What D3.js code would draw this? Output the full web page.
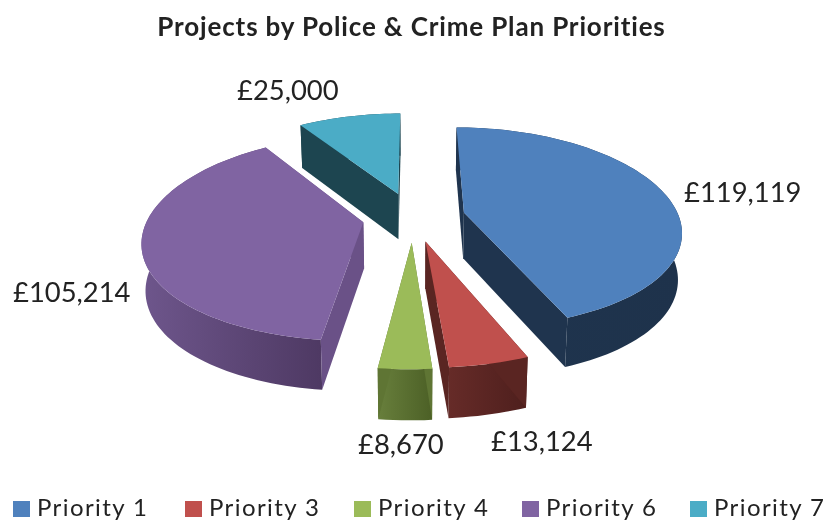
<!DOCTYPE html>
<html><head><meta charset="utf-8">
<script src="https://cdn.jsdelivr.net/npm/d3@7"></script>
<style>html,body{margin:0;padding:0;background:#fff;overflow:hidden}svg{display:block;filter:blur(.55px)}text{font-family:Lato,"Open Sans",sans-serif;fill:#222}</style>
</head><body><svg id="c" width="827" height="521"></svg>
<script>
const titleText = "Projects by Police & Crime Plan Priorities";
const categories = ["Priority 1","Priority 3","Priority 4","Priority 6","Priority 7"];
const values = [119119,13124,8670,105214,25000];
const topColors = ["#4F81BD","#C0504D","#9BBB59","#8064A2","#4BACC6"];
const wallLeft  = ["#1F354F","#662B28","#687F3C","#6E568C","#1D4550"];
const wallRight = ["#1E324B","#4E1F1D","#4C6026","#4E3963","#1D4550"];
const radialWall= ["#1F344E","#5A2522","#5F7534","#6A5187","#1D4550"];
const explodes = [.243,.245,.25,.235,.25];
const labelPos = [[684,202],[491,451],[358,454],[13,302],[237,100]];
const legendX = [13,185,354,522,690];

const cx=413, cy=217, Rx=215, Ry=99, perspX=.17, persp=.15, H=46;
const svg=d3.select("#c");
const defs=svg.append("defs");
const fmt=v=>"£"+d3.format(",")(v);
const arcs=d3.pie().sort(null).value(d=>d)(values);

function proj(u,v,bottom){
  const s=1/(1-persp*v), sx=1/(1-perspX*v);
  let x=cx+u*Rx*sx, y=cy+v*Ry*s;
  if(bottom){x=cx+(x-cx)*.985; y+=H*Math.sqrt(s);}
  return [x,y];
}
const line=d3.line();
function geom(d,explode){
  const mid=(d.startAngle+d.endAngle)/2;
  const ou=explode*Math.sin(mid), ov=-explode*Math.cos(mid);
  const n=Math.max(4,Math.ceil((d.endAngle-d.startAngle)/.03));
  const angs=d3.range(n+1).map(i=>d.startAngle+(d.endAngle-d.startAngle)*i/n);
  const rim=b=>angs.map(a=>proj(ou+Math.sin(a),ov-Math.cos(a),b));
  return {apexT:proj(ou,ov,false),apexB:proj(ou,ov,true),rimT:rim(false),rimB:rim(true)};
}
// paint back to front
const order=[4,0,3,1,2];
order.forEach(i=>{
  const g=geom(arcs[i],explodes[i]);
  const id="w"+i;
  const lg=defs.append("linearGradient").attr("id",id).attr("x1",0).attr("x2",1).attr("y1",0).attr("y2",0);
  lg.append("stop").attr("offset",0).attr("stop-color",wallLeft[i]);
  lg.append("stop").attr("offset",1).attr("stop-color",wallRight[i]);
  const s=svg.append("g").attr("class","slice");
  s.append("path").attr("d",line(g.rimT.concat(g.rimB.slice().reverse()))+"Z").attr("fill",`url(#${id})`);
  const last=g.rimT.length-1;
  s.append("path").attr("d",line([g.apexT,g.rimT[0],g.rimB[0],g.apexB])+"Z").attr("fill",radialWall[i]);
  s.append("path").attr("d",line([g.apexT,g.rimT[last],g.rimB[last],g.apexB])+"Z").attr("fill",radialWall[i]);
  s.append("path").attr("d",line([g.apexT].concat(g.rimT))+"Z").attr("fill",topColors[i]);
});

svg.append("text").attr("x",411.5).attr("y",36).attr("text-anchor","middle")
  .attr("font-size",26).attr("letter-spacing",.85).attr("font-weight",700).text(titleText);
values.forEach((v,i)=>{
  svg.append("text").attr("x",labelPos[i][0]).attr("y",labelPos[i][1]).attr("font-size",27.4).text(fmt(v));
});
categories.forEach((c,i)=>{
  svg.append("rect").attr("x",legendX[i]).attr("y",501).attr("width",17).attr("height",16).attr("fill",topColors[i]);
  svg.append("text").attr("x",legendX[i]+24).attr("y",516).attr("font-size",24).attr("letter-spacing",1.4).text(c);
});
</script></body></html>
